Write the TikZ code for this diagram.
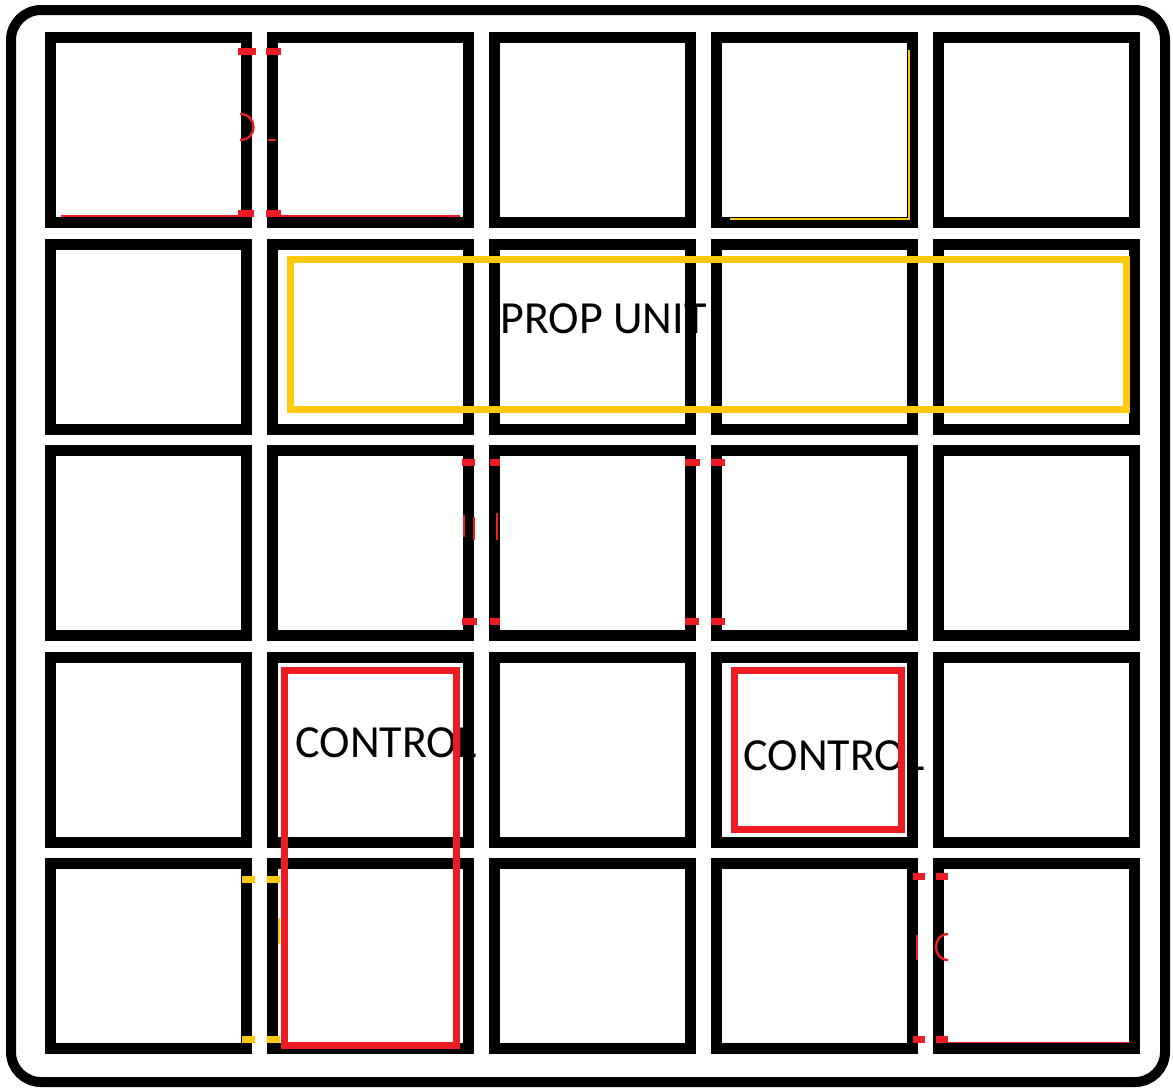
\documentclass[tikz,border=0pt]{standalone}
\usepackage{fontspec}
\setmainfont{Carlito}
\usetikzlibrary{positioning}
\definecolor{pred}{RGB}{237,28,36}
\definecolor{pyel}{RGB}{255,201,14}
\tikzset{
  cell/.style={draw=black,line width=5.5pt,minimum width=98pt,
    minimum height=92.5pt,inner sep=0pt},
  outerframe/.style={draw=black,line width=5pt,rounded corners=15pt},
  unitbox/.style={draw=pyel,line width=3.5pt},
  ctrlbox/.style={draw=pred,line width=3.5pt},
  redtick/.style={draw=pred,line width=3.5pt},
  yeltick/.style={draw=pyel,line width=3.5pt},
  redhair/.style={draw=pred,line width=0.7pt},
  yelhair/.style={draw=pyel,line width=1pt},
  redbit/.style={draw=pred,line width=1.2pt},
  yelbit/.style={draw=pyel,line width=1.2pt},
  boxlbl/.style={font=\fontsize{23}{27}\selectfont,inner sep=0pt,
    anchor=base west},
}

\begin{document}
\begin{tikzpicture}[x=0.5pt,y=-0.5pt]
  \useasboundingbox (0,0) rectangle (1173,1088);
  % labels (sit under the cell borders)
  \node[boxlbl] (prop) at (500,333) {PROP UNIT};
  \node[boxlbl] (ctlA) at (295,757) {CONTROL};
  \node[boxlbl] (ctlB) at (743,770) {CONTROL};
  % outer frame
  \draw[outerframe] (11,10) rectangle (1165,1082);
  % row 1
  \node[cell] (c11) at (148.5,130) {}; \node[cell] (c12) at (370.5,130) {};
  \node[cell] (c13) at (592.5,130) {}; \node[cell] (c14) at (814.5,130) {};
  \node[cell] (c15) at (1036.5,130) {};
  % row 2
  \node[cell] (c21) at (148.5,336.6) {}; \node[cell] (c22) at (370.5,336.6) {};
  \node[cell] (c23) at (592.5,336.6) {}; \node[cell] (c24) at (814.5,336.6) {};
  \node[cell] (c25) at (1036.5,336.6) {};
  % row 3
  \node[cell] (c31) at (148.5,543.2) {}; \node[cell] (c32) at (370.5,543.2) {};
  \node[cell] (c33) at (592.5,543.2) {}; \node[cell] (c34) at (814.5,543.2) {};
  \node[cell] (c35) at (1036.5,543.2) {};
  % row 4
  \node[cell] (c41) at (148.5,749.8) {}; \node[cell] (c42) at (370.5,749.8) {};
  \node[cell] (c43) at (592.5,749.8) {}; \node[cell] (c44) at (814.5,749.8) {};
  \node[cell] (c45) at (1036.5,749.8) {};
  % row 5
  \node[cell] (c51) at (148.5,956.4) {}; \node[cell] (c52) at (370.5,956.4) {};
  \node[cell] (c53) at (592.5,956.4) {}; \node[cell] (c54) at (814.5,956.4) {};
  \node[cell] (c55) at (1036.5,956.4) {};
  % leftovers top left
  \draw[redtick] (238,51)--(256,51); \draw[redtick] (266,51)--(281,51);
  \draw[redtick] (238,213.5)--(254,213.5); \draw[redtick] (266,213.5)--(281,213.5);
  \draw[redhair] (61,216)--(240,216); \draw[redhair] (280,216)--(460,216);
  \draw[redbit] (240,114) .. controls (258,114) and (258,140) .. (240,140);
  \draw[redbit] (268,140)--(276,140);
  % leftovers top row, fourth cell
  \draw[yelhair] (730,219)--(909,219)--(909,50);
  % leftovers middle row
  \draw[redtick] (462,462.5)--(475,462.5); \draw[redtick] (490,462.5)--(500,462.5);
  \draw[redtick] (685,462.5)--(700,462.5); \draw[redtick] (711,462.5)--(725,462.5);
  \draw[redtick] (462,621.5)--(477,621.5); \draw[redtick] (490,621.5)--(500,621.5);
  \draw[redtick] (685,621.5)--(699,621.5); \draw[redtick] (711,621.5)--(725,621.5);
  \draw[redbit] (464,515)--(464,537); \draw[redbit] (474,517)--(474,540);
  \draw[redbit] (497,513)--(497,540);
  % leftovers bottom row
  \draw[yeltick] (242,879)--(255,879); \draw[yeltick] (267,879)--(280,879);
  \draw[yeltick] (242,1039)--(255,1039); \draw[yeltick] (267,1039)--(280,1039);
  \draw[yelbit] (279,918)--(279,944);
  \draw[redtick] (913,876)--(925,876); \draw[redtick] (936,876)--(948,876);
  \draw[redtick] (913,1039.5)--(925,1039.5); \draw[redtick] (936,1039.5)--(948,1039.5);
  \draw[redbit] (917,935)--(917,960);
  \draw[redbit] (948,934) .. controls (932,934) and (932,960) .. (948,960);
  \draw[redhair] (948,1042.5)--(1130,1042.5);
  % unit boxes
  \draw[unitbox] (290.5,259.5) rectangle (1126.5,409.5);
  \draw[ctrlbox] (284.5,670.5) rectangle (456,1045);
  \draw[ctrlbox] (734,670.7) rectangle (901.5,829.5);
\end{tikzpicture}
\end{document}
